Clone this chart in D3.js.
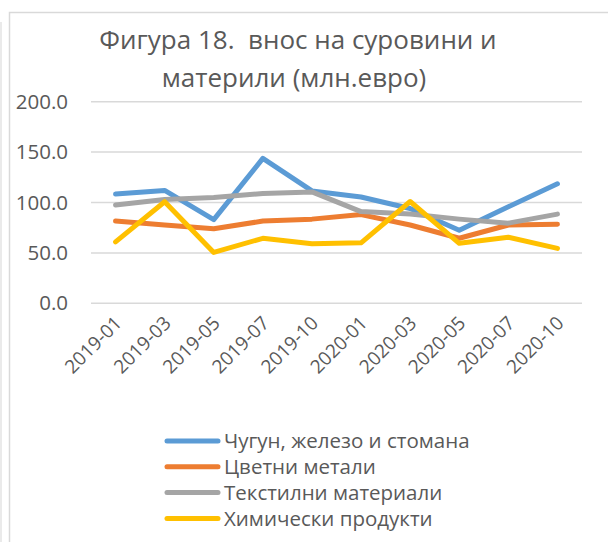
<!DOCTYPE html>
<html>
<head>
<meta charset="utf-8">
<script src="https://cdn.jsdelivr.net/npm/d3@7"></script>
<style>
  body { margin: 0; background: #fff; }
  svg { display: block; font-family: "Open Sans", sans-serif; }
</style>
</head>
<body>
<svg width="608" height="542"></svg>
<script>
let width = 608, height = 542;

// data
let months = ["2019-01", "2019-03", "2019-05", "2019-07", "2019-10",
              "2020-01", "2020-03", "2020-05", "2020-07", "2020-10"];
let seriesNames = ["Чугун, железо и стомана", "Цветни метали",
                   "Текстилни материали", "Химически продукти"];
let iron     = [108.4, 112.0, 83.0, 143.8, 111.5, 105.5, 94.0, 72.5, 95.8, 118.5];
let metals   = [81.6, 77.7, 74.0, 81.6, 83.5, 88.0, 77.7, 64.5, 77.7, 78.5];
let textiles = [97.5, 103.0, 105.0, 109.0, 110.5, 91.0, 88.5, 83.5, 79.5, 88.5];
let chemical = [61.0, 100.8, 50.5, 64.5, 59.0, 60.0, 101.0, 59.5, 65.5, 54.5];
let yTicks = [0, 50, 100, 150, 200];
let colors = ["#5B9BD5", "#ED7D31", "#A5A5A5", "#FFC000"];

let series = [iron, metals, textiles, chemical].map((v, i) => ({ name: seriesNames[i], values: v, color: colors[i] }));

let svg = d3.select("svg");

// chart borders
svg.append("path")
    .attr("d", "M9.5,542 V12.5 H608")
    .attr("fill", "none")
    .attr("stroke", "#d9d9d9")
    .attr("stroke-width", 1.5);
svg.append("line")
    .attr("x1", 1).attr("x2", 1).attr("y1", 22).attr("y2", 542)
    .attr("stroke", "#e3e3e3").attr("stroke-width", 1.5);

// title
let title = svg.append("text")
    .attr("text-anchor", "middle")
    .attr("fill", "#595959")
    .style("font-size", "26px");
title.append("tspan").attr("x", 298).attr("y", 49).text("Фигура 18.\u00a0 внос на суровини и");
title.append("tspan").attr("x", 294).attr("y", 87).text("материли (млн.евро)");

// scales
let x = d3.scalePoint().domain(months).range([91, 582]).padding(0.5);
let y = d3.scaleLinear().domain([0, 200]).range([303.3, 101.7]);

// gridlines
svg.append("g")
    .selectAll("line")
    .data(yTicks)
    .enter()
    .append("line")
    .attr("x1", 91).attr("x2", 582)
    .attr("y1", d => y(d)).attr("y2", d => y(d))
    .attr("stroke", "#d9d9d9")
    .attr("stroke-width", 1.5);

// y axis labels
let yAxis = svg.append("g")
    .attr("transform", "translate(80,0)")
    .call(d3.axisLeft(y).tickValues(yTicks).tickFormat(d3.format(".1f")).tickSize(0).tickPadding(12));
yAxis.select(".domain").remove();
yAxis.selectAll("text")
    .attr("fill", "#595959")
    .style("font-size", "20.5px")
    .style("font-family", "Open Sans, sans-serif");

// x axis labels
let xAxis = svg.append("g")
    .attr("transform", "translate(0,303.3)")
    .call(d3.axisBottom(x).tickSize(0).tickPadding(0));
xAxis.select(".domain").remove();
xAxis.selectAll("text")
    .attr("fill", "#595959")
    .style("font-size", "19px")
    .style("font-family", "Open Sans, sans-serif")
    .attr("text-anchor", "end")
    .attr("dy", null)
    .attr("y", 0)
    .attr("transform", "translate(7,21) rotate(-45)");

// lines
let line = d3.line()
    .x((d, i) => x(months[i]))
    .y(d => y(d));

svg.append("g")
    .selectAll("path")
    .data(series)
    .enter()
    .append("path")
    .attr("d", d => line(d.values))
    .attr("fill", "none")
    .attr("stroke", d => d.color)
    .attr("stroke-width", 5)
    .attr("stroke-linejoin", "round")
    .attr("stroke-linecap", "round");

// legend
let legend = svg.append("g")
    .selectAll(".legenditem")
    .data(series)
    .enter()
    .append("g")
    .attr("class", "legenditem")
    .attr("transform", (d, i) => "translate(0," + (441 + i * 25.8) + ")");

legend.append("line")
    .attr("x1", 167).attr("x2", 218)
    .attr("stroke", d => d.color)
    .attr("stroke-width", 5)
    .attr("stroke-linecap", "round");

legend.append("text")
    .attr("x", 224)
    .attr("dy", "0.35em")
    .attr("fill", "#595959")
    .style("font-size", "20.5px")
    .text(d => d.name);
</script>
</body>
</html>
